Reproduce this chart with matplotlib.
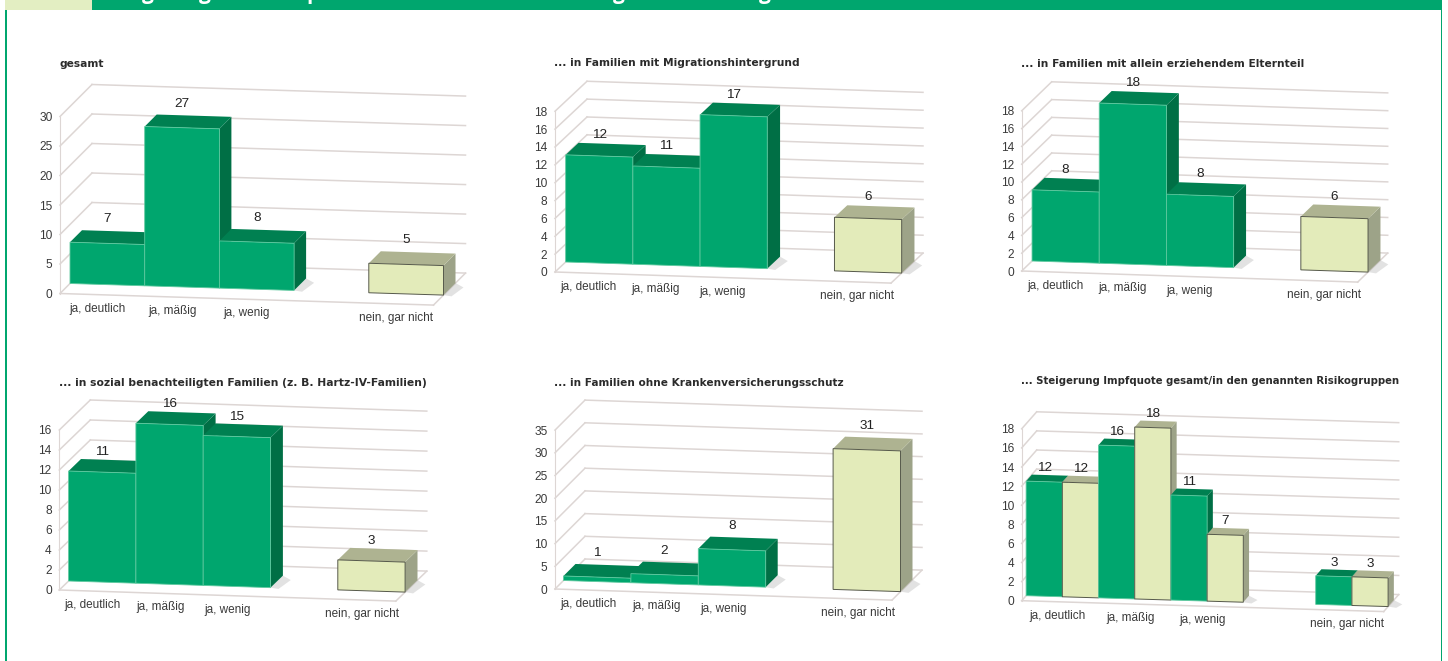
import matplotlib
matplotlib.use('Agg')
import matplotlib.pyplot as plt
from matplotlib.patches import Polygon, Rectangle

W, H = 1448, 661

GREEN = ('#00a66e', '#008051', '#006f45', '#5ec99f')
CREAM = ('#e3ebba', '#aeb391', '#9da388', '#55584a')
GRID = '#ddd6d4'

categories = ['ja, deutlich', 'ja, mäßig', 'ja, wenig', 'nein, gar nicht']

titles = [
    'gesamt',
    '... in Familien mit Migrationshintergrund',
    '... in Familien mit allein erziehendem Elternteil',
    '... in sozial benachteiligten Familien (z. B. Hartz-IV-Familien)',
    '... in Familien ohne Krankenversicherungsschutz',
    '... Steigerung Impfquote gesamt/in den genannten Risikogruppen',
]

gesamt = [7, 27, 8, 5]
migration = [12, 11, 17, 6]
allein = [8, 18, 8, 6]
sozial = [11, 16, 15, 3]
ohne_kv = [1, 2, 8, 31]
impf_green = [12, 16, 11, 3]
impf_cream = [12, 18, 7, 3]

yticks_30 = [0, 5, 10, 15, 20, 25, 30]
yticks_18 = [0, 2, 4, 6, 8, 10, 12, 14, 16, 18]
yticks_16 = [0, 2, 4, 6, 8, 10, 12, 14, 16]
yticks_35 = [0, 5, 10, 15, 20, 25, 30, 35]

# only the bottoms of these letters are left of the cut off heading
header_letters = ['g', 'g', 'p', 'g', 'g']
header_x = [148, 205, 313, 619, 765]

# layout of each panel, in pixels of the picture
panels = [
    dict(x0=60, y0=293.5, w=74.7, ppv=5.9, dx=32, dy=32, d0=10, d1=22, slope=.031, lab=24, title=(59, 64), tfs=7.65, yt=yticks_30),
    dict(x0=555, y0=272, w=67.2, ppv=8.93, dx=32, dy=30, d0=10, d1=22, slope=.033, lab=21, title=(554, 63.5), tfs=7.65, yt=yticks_18),
    dict(x0=1021.7, y0=271, w=67.2, ppv=8.9, dx=30, dy=29, d0=10, d1=22, slope=.033, lab=21, title=(1020.7, 64), tfs=7.7, yt=yticks_18),
    dict(x0=59.3, y0=590, w=67.3, ppv=10, dx=31, dy=30, d0=9, d1=21, slope=.033, lab=20, title=(59, 382.7), tfs=7.75, yt=yticks_16),
    dict(x0=555, y0=589, w=67.4, ppv=4.54, dx=30, dy=30, d0=8.5, d1=20.5, slope=.033, lab=24, title=(554, 382.7), tfs=7.6, yt=yticks_35),
    dict(x0=1021.7, y0=600.7, w=36.2, ppv=9.55, dx=15, dy=17, d0=5, d1=11.5, slope=.03, lab=13.5, title=(1020.7, 380.7), tfs=7.3, yt=yticks_18),
]

plt.rcParams['font.family'] = ['Liberation Sans', 'DejaVu Sans']

fig = plt.figure(figsize=(W / 100, H / 100), dpi=100, facecolor='white')

# frame and heading band
bg = fig.add_axes([0, 0, 1, 1])
bg.set_xlim(0, W)
bg.set_ylim(H, 0)
bg.axis('off')
bg.add_patch(Rectangle((5, 10), 1.6, H - 10, color='#00a66e', lw=0))
bg.add_patch(Rectangle((1440.5, 10), 1.6, H - 10, color='#00a66e', lw=0))
bg.add_patch(Rectangle((5, 0), 87, 10, color='#e3eec2', lw=0))
bg.add_patch(Rectangle((92, 0), 1350, 10, color='#00a66e', lw=0))
for letter, x in zip(header_letters, header_x):
    bg.text(x, -0.6, letter, color='white', fontsize=15, fontweight='bold', ha='center', va='baseline', family='Open Sans')


def draw_panel(p, bars, n_slots):
    ymax = p['yt'][-1]
    w = p['w']
    ppv = p['ppv']
    ax = fig.add_axes([p['x0'] / W, 1 - p['y0'] / H, n_slots * w / W, ymax * ppv / H])
    ax.set_xlim(0, n_slots)
    ax.set_ylim(0, ymax)
    ax.patch.set_visible(False)
    for s in ax.spines.values():
        s.set_visible(False)
    ax.set_xticks([])
    ax.set_yticks(p['yt'])
    ax.tick_params(axis='y', length=0, pad=5.5, labelsize=8.6, labelcolor='#3a3a3a')

    # slot, value and depth (pixels back) to data coordinates
    def pr(slot, val, depth=0):
        return (slot + depth * p['dx'] / p['dy'] / w,
                val + depth / ppv - slot * p['slope'] * w / ppv)

    def face(pts, color, **kw):
        ax.add_patch(Polygon([pr(*q) for q in pts], closed=True, facecolor=color, clip_on=False, **kw))

    def line(a, b, lw=1.1):
        xy = [pr(*a), pr(*b)]
        ax.plot([xy[0][0], xy[1][0]], [xy[0][1], xy[1][1]], color=GRID, lw=lw, clip_on=False, zorder=1)

    d = p['dy']
    for v in p['yt']:
        line((0, v, d), (n_slots, v, d))
        line((0, v, 0), (0, v, d))
    line((0, 0, 0), (0, ymax, 0), .8)
    line((0, 0, 0), (n_slots, 0, 0))
    line((n_slots, 0, 0), (n_slots, 0, d))

    d0 = p['d0']
    d1 = p['d1']
    taken = [b[0] for b in bars]
    for slot, val, cols in bars:
        z = 2 + slot
        ec = dict(edgecolor=cols[3], lw=.6 if cols is GREEN else .7, zorder=z)
        side = dict(edgecolor='none', zorder=z)
        # soft floor shadow next to a bar with no right neighbour
        if slot + 1 not in taken:
            face([(slot + 1, 0, d0), (slot + 1 + 9 / w, 0, d0 - 1), (slot + 1 + 12 / w, 0, d1 - 4), (slot + 1, 0, d1)],
                 '#8c8c8c', edgecolor='none', alpha=.25, zorder=1.5)
        face([(slot + 1, 0, d0), (slot + 1, 0, d1), (slot + 1, val, d1), (slot + 1, val, d0)], cols[2], **side)
        face([(slot, val, d0), (slot + 1, val, d0), (slot + 1, val, d1), (slot, val, d1)], cols[1], **side)
        face([(slot, 0, d0), (slot + 1, 0, d0), (slot + 1, val, d0), (slot, val, d0)], cols[0], **ec)
        tx, ty = pr(slot + .5, val, d0)
        ax.text(tx, ty + p['lab'] / ppv, str(val), ha='center', va='center', fontsize=9.7, color='#222222', zorder=30, clip_on=False)

    tx, ty = p['title']
    bg.text(tx, ty, titles[panels.index(p)], ha='left', va='center', fontsize=p['tfs'], fontweight='bold', color='#2b2b2b', family='DejaVu Sans')
    return pr


def cat_labels(p, pr, slots):
    ax = fig.axes[-1]
    for name, c in zip(categories, slots):
        lx, ly = pr(c, 0, 0)
        ax.text(lx, ly - 14 / p['ppv'], name, ha='center', va='center', fontsize=8.5, color='#3a3a3a', clip_on=False, zorder=30)


groups = [gesamt, migration, allein, sozial, ohne_kv]
for i, vals in enumerate(groups):
    p = panels[i]
    slots = [0, 1, 2, 4]
    bars = [(s, v, GREEN if s < 3 else CREAM) for s, v in zip(slots, vals)]
    pr = draw_panel(p, bars, 5)
    cat_labels(p, pr, [s + .5 for s in slots])

p = panels[5]
bars = []
for s, g, c in zip([0, 2, 4, 8], impf_green, impf_cream):
    bars.append((s, g, GREEN))
    bars.append((s + 1, c, CREAM))
pr = draw_panel(p, bars, 10)
cat_labels(p, pr, [1, 3, 5, 9])

fig.savefig('out.png', dpi=100)
